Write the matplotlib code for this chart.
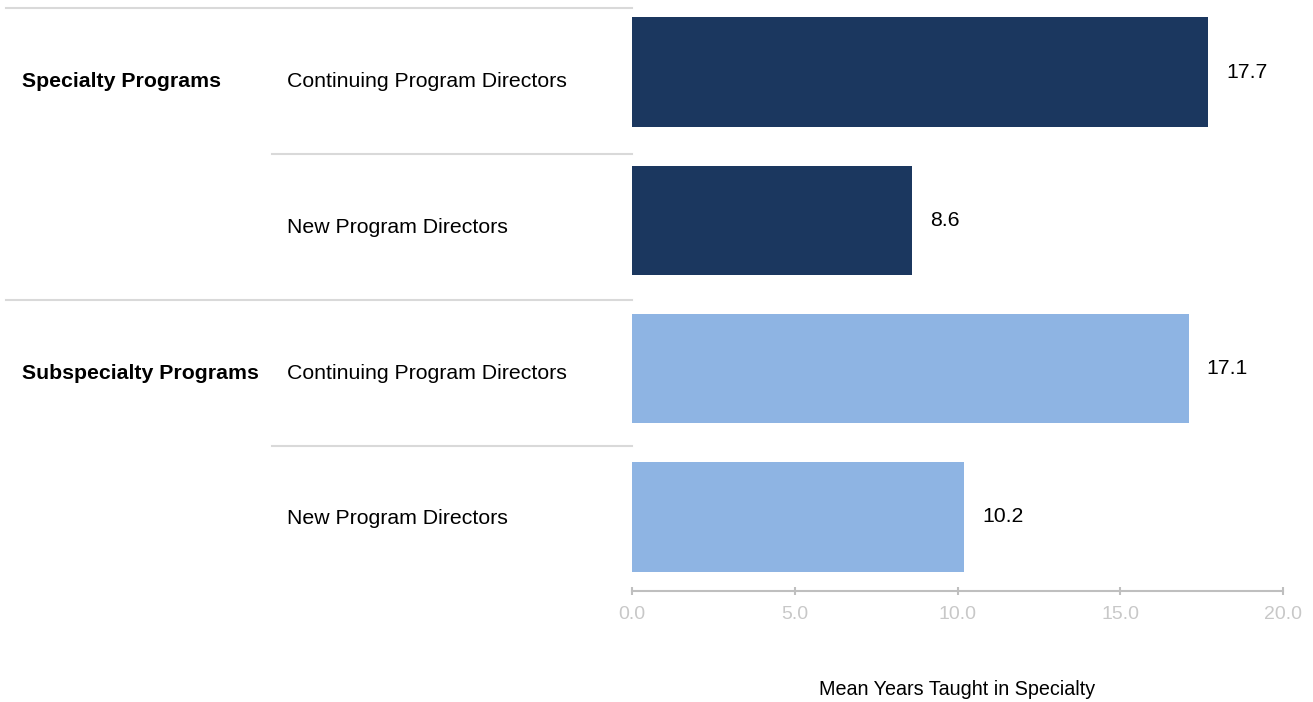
import matplotlib.pyplot as plt
import matplotlib.transforms as mtransforms

plt.rcParams['font.family'] = ['Liberation Sans', 'DejaVu Sans']

# data
groups = ["Specialty Programs", "Subspecialty Programs"]
roles = ["Continuing Program Directors", "New Program Directors",
         "Continuing Program Directors", "New Program Directors"]
values = [17.7, 8.6, 17.1, 10.2]
group_of_bar = [0, 0, 1, 1]
group_colors = ["#1b375f", "#8eb4e3"]

fig = plt.figure(figsize=(13.13, 7.02), dpi=100)
W, H = 1313, 702
ax = fig.add_axes([632 / W, (702 - 591) / H, (1283 - 632) / W, 593 / H])

pos = list(range(len(values)))
ax.barh(pos, values, height=0.74, color=[group_colors[g] for g in group_of_bar])
ax.set_xlim(0, 20)
ax.set_ylim(3.5, -0.5)

for p, v in zip(pos, values):
    ax.annotate(f"{v:.1f}", xy=(v, p), xytext=(13, 0), textcoords="offset points",
                va="center", ha="left", fontsize=15.3, color="black")

# spines / ticks
for s in ["top", "right", "left"]:
    ax.spines[s].set_visible(False)
ax.spines["bottom"].set_color("#bfbfbf")
ax.spines["bottom"].set_linewidth(1.5)
ax.set_yticks([])
ax.set_xticks([0, 5, 10, 15, 20])
ax.set_xticklabels([f"{t:.1f}" for t in [0, 5, 10, 15, 20]])
ax.tick_params(axis="x", colors="#bfbfbf", labelcolor="#c8c8c8", labelsize=14,
               direction="inout", length=6, width=1.5, pad=8)
ax.set_xlabel("Mean Years Taught in Specialty", fontsize=14.2, labelpad=41)

# row labels and separators on the left (labels sit mid-band between lines)
trans = mtransforms.blended_transform_factory(fig.transFigure, ax.transData)
sep_y = [-0.43, 0.55, 1.54, 2.52]
band_mid = [(a + b) / 2 for a, b in zip(sep_y, sep_y[1:] + [3.5])]

for p, r in zip(pos, roles):
    ax.text(287 / W, band_mid[p], r, transform=trans, va="center", ha="left",
            fontsize=15.3)
for g, name in enumerate(groups):
    first = group_of_bar.index(g)
    ax.text(22 / W, band_mid[first], name, transform=trans, va="center", ha="left",
            fontsize=15.3, fontweight="bold")

for p in pos:
    start = 6 / W if (p == 0 or group_of_bar[p] != group_of_bar[p - 1]) else 272 / W
    ax.plot([start, 632 / W], [sep_y[p], sep_y[p]], transform=trans,
            color="#d9d9d9", lw=1.5, clip_on=False)

fig.savefig("out.png", dpi=100)
